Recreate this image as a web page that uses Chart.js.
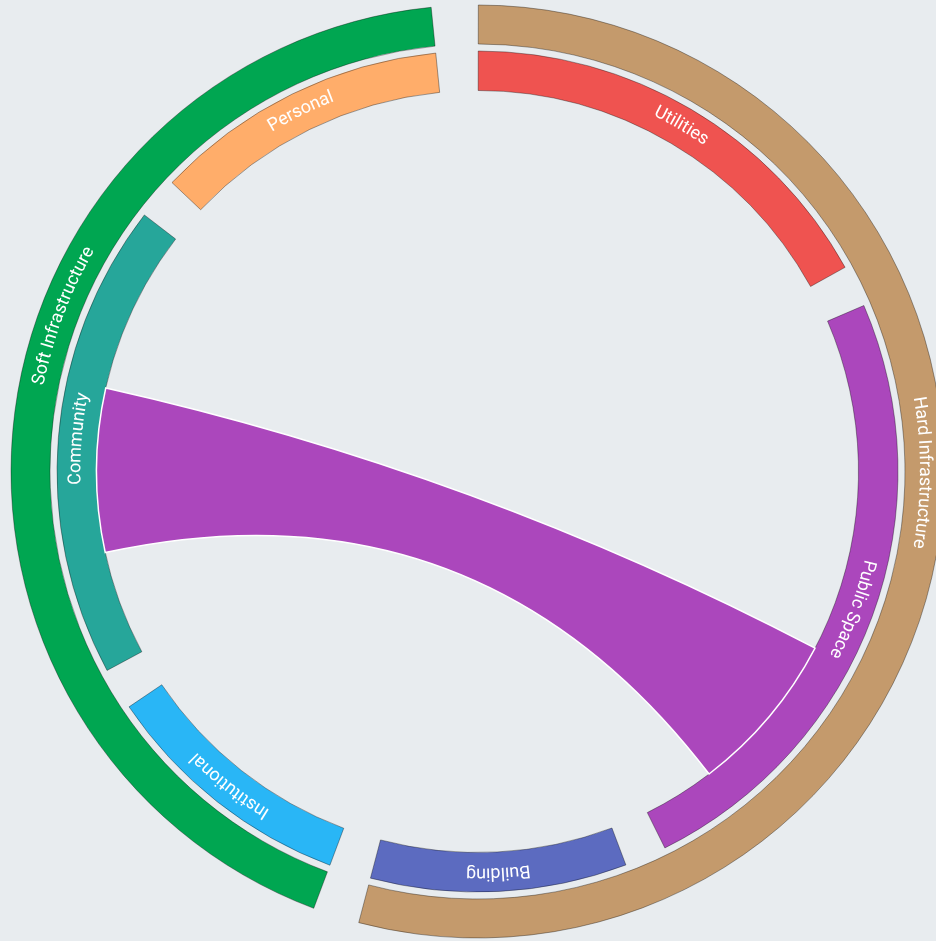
<!DOCTYPE html>
<html>
<head>
<meta charset="utf-8">
<script src="https://cdn.jsdelivr.net/npm/chart.js@4.4.1/dist/chart.umd.min.js"></script>
<style>
  html, body { margin: 0; padding: 0; overflow: hidden; background: #e8ecef; }
  #chord { display: block; }
</style>
</head>
<body>
<canvas id="chord" width="955" height="943"></canvas>
<script>
// outer ring groups
const groups = ['Hard Infrastructure', 'Soft Infrastructure'];
const groupColors = ['#c49a6c', '#00a651'];

// inner ring categories, in drawing order (clockwise from top)
const categories = ['Utilities', 'Public Space', 'Building', 'Institutional', 'Community', 'Personal'];
const categoryGroup = [0, 0, 0, 1, 1, 1];
const categoryValues = [61, 87, 35.5, 35.5, 66, 41];
const categoryColors = ['#ef5350', '#ab47bc', '#5c6bc0', '#29b6f6', '#26a69a', '#ffad6a'];

// the one chord shown, plus the flows that sit before it on each end
const linkSource = 'Community';
const linkTarget = 'Public Space';
const linkValue = 25;
const linkSourceBefore = 16;
const linkTargetBefore = 51;

const GAP_DEG = 5.8;
const OUTER_R = 466.5;
const OUTER_W = 39;
const RING_GAP = 7;
const INNER_W = 39.5;
const INNER_R = OUTER_R - OUTER_W - RING_GAP - INNER_W;

const total = categoryValues.reduce((a, b) => a + b, 0);
const gap = total * GAP_DEG / (360 - categories.length * GAP_DEG);

// inner ring: each category followed by an empty gap slice
const innerData = [];
const innerColors = [];
const innerBorders = [];
categories.forEach((c, i) => {
  innerData.push(categoryValues[i], gap);
  innerColors.push(categoryColors[i], 'rgba(0,0,0,0)');
  innerBorders.push(1, 0);
});

// outer ring: group sums spanning their children and the gaps between them
const outerData = [];
const outerColors = [];
const outerBorders = [];
groups.forEach((g, gi) => {
  const members = categoryValues.filter((v, i) => categoryGroup[i] === gi);
  outerData.push(members.reduce((a, b) => a + b, 0) + gap * (members.length - 1), gap);
  outerColors.push(groupColors[gi], 'rgba(0,0,0,0)');
  outerBorders.push(1, 0);
});

function arcText(ctx, text, cx, cy, r, center) {
  const full = ctx.measureText(text).width;
  let a = center - full / 2 / r;
  for (const ch of text) {
    const w = ctx.measureText(ch).width;
    const mid = a + w / 2 / r;
    ctx.save();
    ctx.translate(cx + r * Math.cos(mid), cy + r * Math.sin(mid));
    ctx.rotate(mid + Math.PI / 2);
    ctx.fillText(ch, 0, 0);
    ctx.restore();
    a += w / r;
  }
}

function drawRibbon(chart) {
  const arcs = chart.getDatasetMeta(2).data;
  const si = categories.indexOf(linkSource);
  const ti = categories.indexOf(linkTarget);
  const s = arcs[si * 2];
  const t = arcs[ti * 2];
  const sk = (s.endAngle - s.startAngle) / categoryValues[si];
  const tk = (t.endAngle - t.startAngle) / categoryValues[ti];
  const sa0 = s.startAngle + linkSourceBefore * sk;
  const sa1 = sa0 + linkValue * sk;
  const ta0 = t.startAngle + linkTargetBefore * tk;
  const ta1 = ta0 + linkValue * tk;
  const r = s.innerRadius;
  const cx = s.x, cy = s.y;
  const ctx = chart.ctx;
  ctx.save();
  ctx.beginPath();
  ctx.moveTo(cx + r * Math.cos(sa0), cy + r * Math.sin(sa0));
  ctx.arc(cx, cy, r, sa0, sa1);
  ctx.quadraticCurveTo(cx, cy, cx + r * Math.cos(ta0), cy + r * Math.sin(ta0));
  ctx.arc(cx, cy, r, ta0, ta1);
  ctx.quadraticCurveTo(cx, cy, cx + r * Math.cos(sa0), cy + r * Math.sin(sa0));
  ctx.closePath();
  ctx.fillStyle = categoryColors[ti];
  ctx.fill();
  ctx.strokeStyle = '#ffffff';
  ctx.lineWidth = 1.5;
  ctx.stroke();
  ctx.restore();
}

const chordPlugin = {
  id: 'chord',
  afterDatasetsDraw(chart) {
    drawRibbon(chart);
    const ctx = chart.ctx;
    ctx.save();
    ctx.fillStyle = '#ffffff';
    ctx.font = '18px Roboto, "Liberation Sans", sans-serif';
    ctx.textAlign = 'center';
    ctx.textBaseline = 'middle';
    // group names sit a quarter turn past the start of their arc
    const outer = chart.getDatasetMeta(0).data;
    groups.forEach((g, gi) => {
      const a = outer[gi * 2];
      arcText(ctx, g, a.x, a.y, (a.innerRadius + a.outerRadius) / 2, a.startAngle + Math.PI / 2);
    });
    const inner = chart.getDatasetMeta(2).data;
    categories.forEach((c, i) => {
      const a = inner[i * 2];
      arcText(ctx, c, a.x, a.y, (a.innerRadius + a.outerRadius) / 2 + 1, (a.startAngle + a.endAngle) / 2);
    });
    ctx.restore();
  }
};

new Chart(document.getElementById('chord'), {
  type: 'doughnut',
  data: {
    labels: innerData.map((v, i) => i),
    datasets: [
      { data: outerData, backgroundColor: outerColors, borderColor: 'rgba(0,0,0,0.35)', borderWidth: outerBorders, weight: OUTER_W },
      { data: [1], backgroundColor: ['rgba(0,0,0,0)'], borderWidth: 0, weight: RING_GAP },
      { data: innerData, backgroundColor: innerColors, borderColor: 'rgba(0,0,0,0.35)', borderWidth: innerBorders, weight: INNER_W }
    ]
  },
  options: {
    responsive: false,
    animation: false,
    events: [],
    rotation: 0.1,
    radius: OUTER_R,
    cutout: (INNER_R / OUTER_R * 100) + '%',
    plugins: { legend: { display: false }, tooltip: { enabled: false } }
  },
  plugins: [chordPlugin]
});
</script>
</body>
</html>
